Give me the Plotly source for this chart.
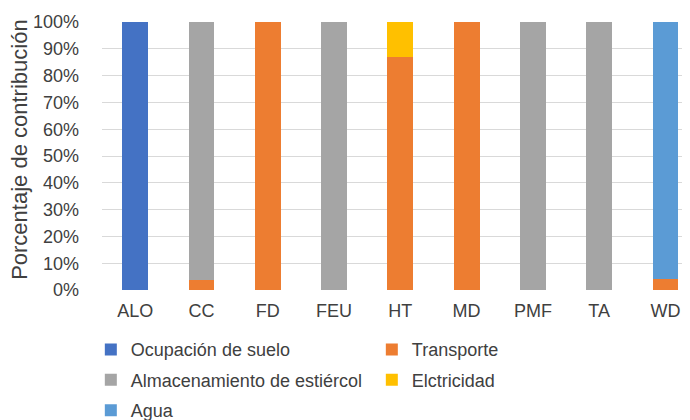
import plotly.graph_objects as go

categories = ["ALO", "CC", "FD", "FEU", "HT", "MD", "PMF", "TA", "WD"]
series_names = ["Ocupación de suelo", "Transporte", "Almacenamiento de estiércol", "Elctricidad", "Agua"]
ocupacion = [1.00, 0.00, 0.00, 0.00, 0.00, 0.00, 0.00, 0.00, 0.00]
transporte = [0.00, 0.038, 1.00, 0.00, 0.87, 1.00, 0.00, 0.00, 0.042]
almacenamiento = [0.00, 0.962, 0.00, 1.00, 0.00, 0.00, 1.00, 1.00, 0.00]
electricidad = [0.00, 0.00, 0.00, 0.00, 0.13, 0.00, 0.00, 0.00, 0.00]
agua = [0.00, 0.00, 0.00, 0.00, 0.00, 0.00, 0.00, 0.00, 0.958]
y_ticks = [0, 0.1, 0.2, 0.3, 0.4, 0.5, 0.6, 0.7, 0.8, 0.9, 1.0]
y_title = "Porcentaje de contribución"

series_values = [ocupacion, transporte, almacenamiento, electricidad, agua]
colors = ["#4472C4", "#ED7D31", "#A5A5A5", "#FFC000", "#5B9BD5"]

FONT = "Liberation Sans, Arial, sans-serif"
TXT = "#404040"

fig = go.Figure()
for name, vals, col in zip(series_names, series_values, colors):
    fig.add_trace(go.Bar(name=name, x=categories, y=vals, legendgroup=name,
                         marker=dict(color=col, line=dict(width=0))))

# page body has an 8px default margin, so the figure is sized to fill the rest of the window
fig.update_layout(
    barmode="stack",
    bargap=0.61,
    width=682, height=412,
    margin=dict(l=94, r=0, t=14, b=130, autoexpand=False),
    paper_bgcolor="white", plot_bgcolor="white",
    font=dict(family=FONT, size=18, color=TXT),
    legend=dict(
        orientation="h",
        x=-0.019, y=-0.1537, xanchor="left", yanchor="top",
        entrywidth=236, entrywidthmode="pixels",
        traceorder="grouped", tracegroupgap=4,
        font=dict(family=FONT, size=18, color=TXT),
        itemclick=False,
    ),
    showlegend=True,
    annotations=[dict(
        text=y_title, textangle=-90, xref="paper", yref="paper",
        x=-0.1395, y=0.5265, xanchor="center", yanchor="middle",
        showarrow=False, font=dict(size=22, color=TXT, family=FONT),
    )],
)
fig.update_xaxes(
    range=[-0.5, 8.37],
    showgrid=False, showline=False, zeroline=False,
    tickfont=dict(size=18, color=TXT),
    ticklabelstandoff=8,
    automargin=False,
)
fig.update_yaxes(
    range=[0, 1],
    tickvals=y_ticks,
    tickformat=".0%",
    showgrid=True, gridcolor="#D9D9D9", gridwidth=1,
    zeroline=False, showline=False,
    tickfont=dict(size=18, color=TXT),
    ticklabelstandoff=22,
    automargin=False,
)

fig.write_html("out.html")
